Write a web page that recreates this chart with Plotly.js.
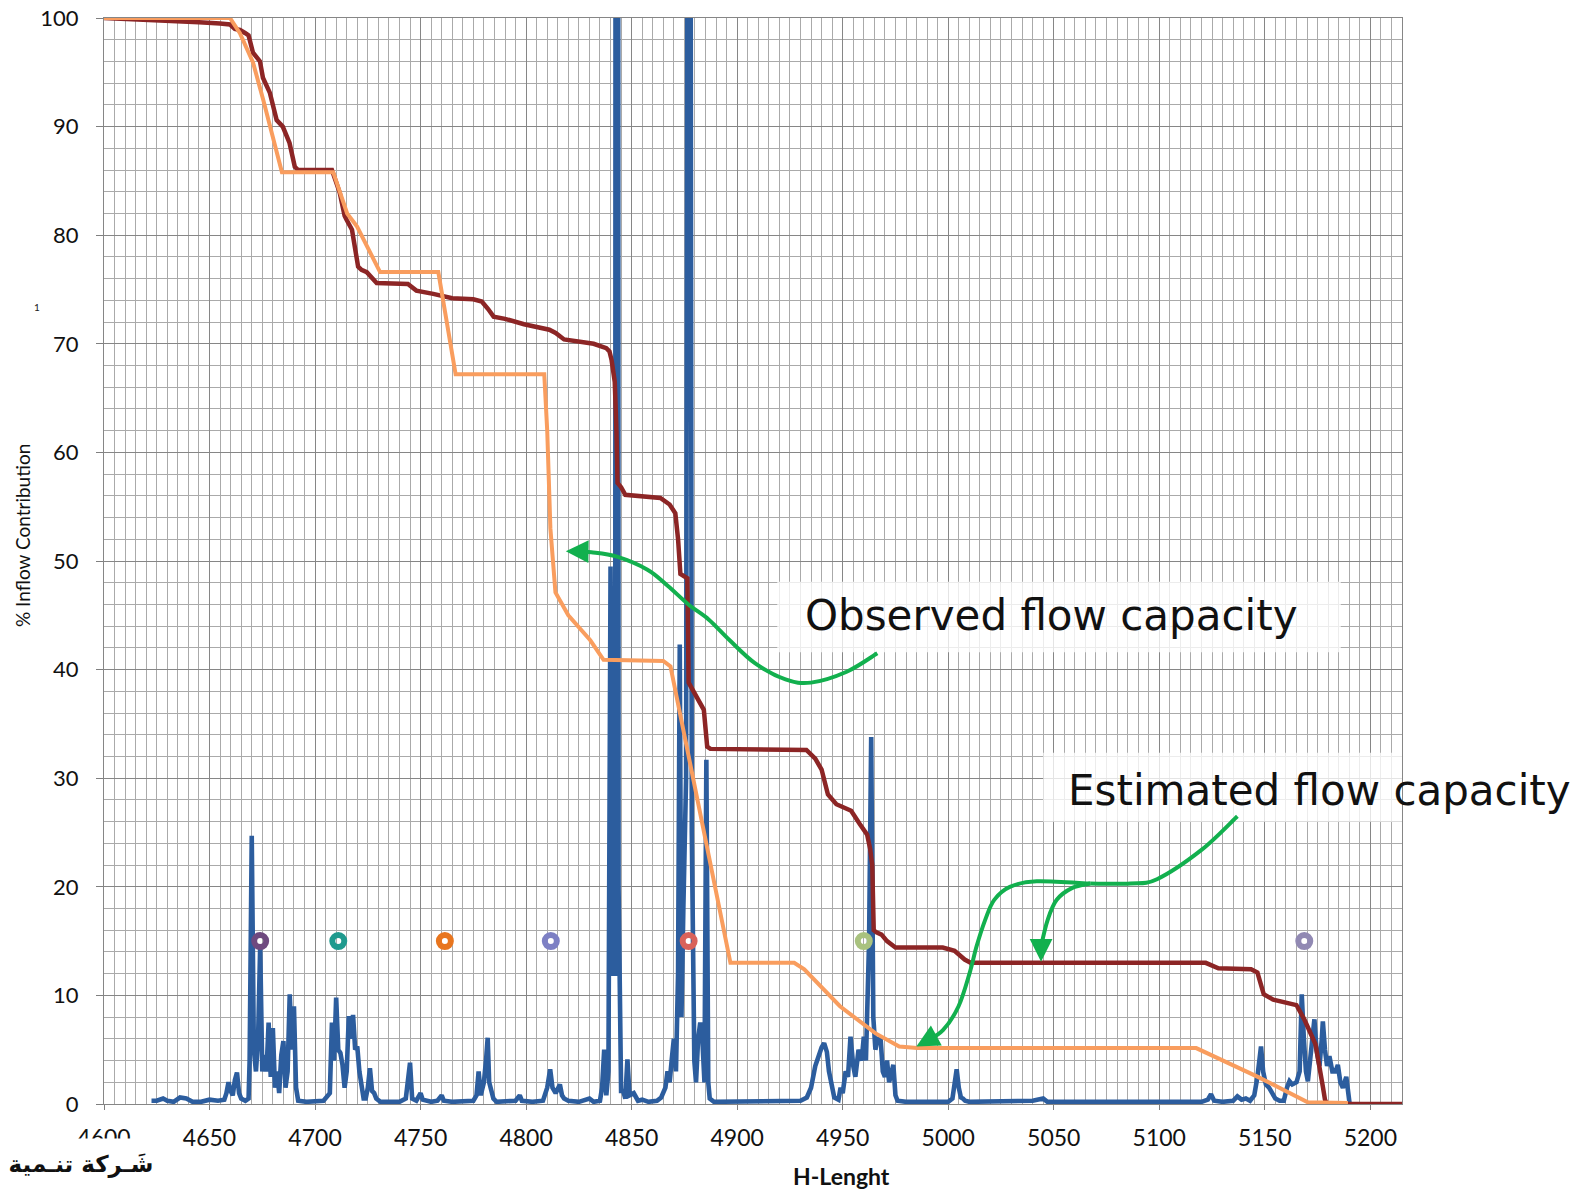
<!DOCTYPE html>
<html>
<head>
<meta charset="utf-8">
<script src="https://cdn.plot.ly/plotly-3.0.1.min.js"></script>
<style>
html,body{margin:0;padding:0;background:#fff;}
#chart{width:1578px;height:1192px;}
</style>
</head>
<body>
<div id="chart"></div>
<script>
// ---------- DATA ----------
const xTickVals = [4600,4650,4700,4750,4800,4850,4900,4950,5000,5050,5100,5150,5200];
const yTickVals = [0,10,20,30,40,50,60,70,80,90,100];

// Inflow profile (blue)
const blueX = [4622.5,4625,4628,4630,4633,4636,4639,4642,4646,4650,4654,4657,4658,4659,4660,4661,4662,4663,4664,4665,4667,4668.5,4669,4670,4671,4672,4673,4674,4675,4676,4677,4678,4679,4680,4681,4682,4683,4684,4685,4686,4687,4688,4689,4690,4691,4692,4696,4700,4704,4707,4708,4709,4710,4711,4712,4713,4714,4715,4716,4717,4718,4719,4720,4721,4722,4723,4724,4725,4726,4727,4728,4729,4731,4735,4740,4743,4744,4745,4746,4748,4750,4751,4755,4758,4760,4761,4765,4770,4775,4776.5,4777.5,4778.5,4780,4781,4781.8,4782.5,4783.5,4784.5,4786,4790,4795,4797,4798,4803,4808,4810,4811.4,4812.5,4814,4816,4817,4818,4820,4825,4830,4832,4835,4836,4837,4838,4839,4840,4841.3,4842.2,4842.4,4843.6,4843.8,4845,4846,4847,4848,4849,4851,4853,4855,4858,4862,4864,4866,4867,4868,4869,4870,4871,4872,4872.8,4873.6,4874.5,4875.8,4876.6,4877.8,4878.5,4879.7,4880.5,4881.5,4882.5,4883.5,4884.5,4885.4,4886.3,4887,4889,4895,4900,4905,4910,4915,4920,4925,4930,4933,4935,4937,4938.5,4940,4941.2,4942.5,4943.5,4944.5,4946,4948,4949,4950,4951.4,4952.5,4953.7,4955,4956,4957.5,4959,4960,4961,4962.5,4963.5,4964.5,4965.5,4966.5,4968,4969,4970,4971,4972,4974,4975,4976,4980,4985,4990,4995,5000,5002,5003,5004,5005,5006,5007,5008,5010,5020,5030,5040,5045,5047,5060,5075,5090,5100,5110,5120,5123,5124.5,5126,5130,5135,5137,5139,5141,5143,5145,5146.5,5147.5,5148.2,5149.2,5150.5,5152,5153.8,5155,5157,5159,5160.5,5161.7,5163,5165,5166.5,5167.5,5168.5,5169.5,5170.4,5171.5,5172.5,5173.5,5174.5,5175.9,5177,5177.5,5178.5,5179.5,5180.6,5182,5183.5,5184.6,5185.8,5187,5188.6,5189.5,5190.2];
const blueY = [0.3,0.3,0.5,0.3,0.2,0.6,0.5,0.2,0.2,0.4,0.3,0.4,1.0,2.0,1.2,0.8,2.2,2.9,1.0,0.5,0.3,0.5,4,24.7,5,3,6,14.5,3,4.5,3,7.5,2.5,7.0,1.5,3,1,4.5,5.8,1.5,3,10.1,5,9.0,1.5,0.3,0.2,0.2,0.3,1.0,7.5,4,9.8,5,4.7,3.6,1.5,3,8.1,6,8.2,5,5.3,3,1.6,0.5,0.5,1.5,3.3,1.2,1.0,0.5,0.2,0.2,0.2,0.5,2,3.8,0.5,0.3,1.0,0.4,0.2,0.3,0.8,0.3,0.2,0.2,0.3,0.8,3.0,0.8,2,4,6.1,2,1.2,0.5,0.2,0.2,0.3,0.8,0.3,0.2,0.3,1.5,3.2,1.5,1.0,1.8,0.8,0.5,0.3,0.2,0.5,0.2,0.3,1.5,5.0,0.8,3,49.5,12,12,130,130,20,1.2,1.2,0.5,4.1,0.8,1.0,0.3,0.4,0.2,0.3,0.6,1.5,3.0,2.0,4.1,6,3,12,42.3,8,18,30,130,130,25,4,2,6,7.5,6,2,31.7,2,0.5,0.2,0.2,0.3,0.2,0.3,0.2,0.2,0.3,0.3,0.6,1.5,3.5,4.5,5.2,5.6,4.8,3.0,2.0,0.6,0.4,1.5,1.0,3.0,2.5,6.2,3.5,2.5,5,4,6.2,4,15,33.8,8,5,6,5.9,3,2.5,4,2,3.6,0.8,0.3,0.2,0.2,0.2,0.3,0.2,0.5,1.8,3.2,1.5,0.6,0.5,0.3,0.2,0.2,0.2,0.3,0.5,0.2,0.2,0.2,0.2,0.2,0.2,0.2,0.4,0.9,0.3,0.2,0.3,0.7,0.4,0.5,0.3,0.8,2.5,4.5,5.3,3,1.8,1.5,1.0,0.5,0.3,0.3,1.5,2.1,1.8,2.0,3,10.1,6,3,2.1,4,6,7.8,5,3.5,6,7.6,5,3.5,4.4,3,3,3.6,2,1.5,2.5,0.5,0];

// Observed cumulative (dark red)
const obsX = [4600,4630,4645,4655,4659.7,4662,4664.4,4667,4668.5,4670.6,4673.9,4675.3,4677,4678.6,4681.8,4684.7,4687.9,4690.4,4692,4708,4711.7,4714,4715,4717.5,4720.4,4722,4724.5,4727,4729.2,4744,4748,4756,4765,4775,4779,4782,4784.6,4790,4799,4811,4814,4818,4822,4832,4838,4839.5,4840.5,4842,4842.8,4843.3,4845,4847,4863.6,4868,4870.7,4872,4873.1,4876.4,4877,4881,4884.2,4885.8,4887.3,4932.8,4937,4940,4943,4947,4951,4954,4958,4961.6,4963,4964,4964.7,4966,4968.4,4971,4975,4997.4,5003,5007.8,5010.6,5122,5128,5143.5,5146.5,5149.5,5154,5165,5168.7,5172,5174,5177.5,5178.5,5179.5,5215];
const obsY = [100,99.8,99.6,99.5,99.4,99.0,98.9,98.6,98.4,96.8,96.0,94.5,93.8,93.1,90.6,90.0,88.5,86.3,86.0,86.0,83.9,81.8,81.4,80.5,77.1,76.8,76.6,76.0,75.6,75.5,74.9,74.6,74.2,74.1,73.9,73.2,72.5,72.3,71.8,71.3,71.0,70.4,70.3,70.0,69.6,69.3,68.5,66.5,62,57.2,56.8,56.1,55.8,55.2,54.4,52,48.8,48.4,38.8,37.5,36.3,32.9,32.7,32.6,31.8,30.8,28.5,27.6,27.3,27.0,25.8,24.8,23.5,22.0,16.0,15.8,15.6,15.0,14.4,14.4,14.1,13.3,13.0,13.0,12.5,12.4,12.1,10.1,9.6,9.1,7.8,6.2,5.5,1.6,0.4,0,0];

// Estimated cumulative (orange)
const estX = [4600,4659.7,4664.4,4670.6,4675.4,4678.6,4684.3,4708.6,4715.2,4719.9,4730.8,4758.4,4766.6,4808.6,4810,4811.5,4813.9,4820,4830.4,4836.7,4865,4868.4,4896.8,4927,4931.8,4948.7,4965.6,4976.8,4985.2,5117.5,5146.7,5170.4,5189.4];
const estY = [100,100,98.6,95.9,92.5,90.0,85.8,85.8,82.0,80.8,76.6,76.6,67.2,67.2,62,53,47.1,45.0,42.7,40.9,40.8,40.3,13.0,13.0,12.4,9.0,6.5,5.3,5.15,5.15,2.5,0.15,0.1];

// Zone markers (rings)
const ringX = [4674,4711,4761.5,4811.7,4877,4960,5168.7];
const ringY = [15,15,15,15,15,15,15];
const ringColors = ['#6f4a7f','#1f9a8e','#e8751e','#7d80c4','#d9625a','#a9c27f','#9189b3'];

// Callout arrow guide points (data coordinates)
const obsArrow = [[4966.4,41.5],[4951.9,39.8],[4935,38.8],[4922.9,39.1],[4908.4,40.6],[4896.2,42.75],[4886.6,44.6],[4876.9,46.0],[4867.2,47.7],[4857.5,49.2],[4843,50.4],[4830.9,50.8],[4822,50.9]];
const estTrunk = [[5137,26.5],[5120,23.4],[5098.9,20.7],[5086.2,20.3],[5067.3,20.3]];
const estBranchA = [[5067.3,20.3],[5041.9,20.5],[5029.2,20.0],[5021.8,18.8],[5017.6,17.0],[5013.4,14.5],[5010.2,12.1],[5004.9,9.0],[4997.5,6.8],[4989,5.7]];
const estBranchB = [[5067.3,20.3],[5058.8,19.9],[5051.4,18.8],[5047.2,17.0],[5044,14.5],[5044,14.0]];

// ---------- HELPERS ----------
function smoothPath(pts){
  let d = 'M ' + pts[0][0] + ',' + pts[0][1];
  for (let i = 0; i < pts.length - 1; i++){
    const p0 = pts[i-1] || pts[i], p1 = pts[i], p2 = pts[i+1], p3 = pts[i+2] || pts[i+1];
    const c1 = [p1[0] + (p2[0]-p0[0])/6, p1[1] + (p2[1]-p0[1])/6];
    const c2 = [p2[0] - (p3[0]-p1[0])/6, p2[1] - (p3[1]-p1[1])/6];
    d += ' C ' + c1[0] + ',' + c1[1] + ' ' + c2[0] + ',' + c2[1] + ' ' + p2[0] + ',' + p2[1];
  }
  return d;
}
const GREEN = '#12b04e';
function greenCurve(pts){
  return {type:'path', xref:'x', yref:'y', path: smoothPath(pts), line:{color:GREEN, width:4}, layer:'above'};
}
function arrowHead(tip, tail){
  return {x:tip[0], y:tip[1], ax:tail[0], ay:tail[1], xref:'x', yref:'y', axref:'x', ayref:'y',
    text:'', showarrow:true, arrowhead:2, arrowsize:1.3, arrowwidth:3.5, arrowcolor:GREEN, standoff:0, startstandoff:0};
}

// ---------- TRACES ----------
const traces = [
  {x: blueX, y: blueY, type:'scatter', mode:'lines', line:{color:'#2c5d9e', width:4.6}, hoverinfo:'skip', showlegend:false},
  {x: obsX, y: obsY, type:'scatter', mode:'lines', line:{color:'#8c2525', width:4.5}, hoverinfo:'skip', showlegend:false},
  {x: estX, y: estY, type:'scatter', mode:'lines', line:{color:'#f99d5e', width:4}, hoverinfo:'skip', showlegend:false},
  {x: ringX, y: ringY, type:'scatter', mode:'markers', marker:{symbol:'circle-open', size:12, color:ringColors, line:{width:6, color:ringColors}}, hoverinfo:'skip', showlegend:false}
];

const tickFontX = {family:'Lato, "Open Sans", sans-serif', size:23, color:'#111'};
const tickFontY = {family:'Lato, "Open Sans", sans-serif', size:22, color:'#111'};

const layout = {
  width:1578, height:1192,
  margin:{l:104, r:176, t:18, b:88, pad:0},
  paper_bgcolor:'#fff', plot_bgcolor:'#fff',
  showlegend:false,
  xaxis:{
    range:[4600,5215], tickmode:'array', tickvals:xTickVals, ticktext:xTickVals.map(String),
    ticks:'outside', ticklen:5, tickcolor:'#7f7f7f', tickwidth:1,
    showgrid:true, gridcolor:'#868686', gridwidth:1,
    minor:{dtick:5, tick0:4600, showgrid:true, gridcolor:'#aaaaaa', gridwidth:1},
    showline:true, linecolor:'#868686', linewidth:1, mirror:true, zeroline:false,
    tickfont:tickFontX, ticklabelstandoff:8, fixedrange:true
  },
  yaxis:{
    range:[0,100], tickmode:'array', tickvals:yTickVals, ticktext:yTickVals.map(String),
    ticks:'outside', ticklen:7, tickcolor:'#7f7f7f', tickwidth:1,
    showgrid:true, gridcolor:'#868686', gridwidth:1,
    minor:{dtick:2, tick0:0, showgrid:true, gridcolor:'#aaaaaa', gridwidth:1},
    showline:true, linecolor:'#868686', linewidth:1, mirror:true, zeroline:false,
    tickfont:tickFontY, ticklabelstandoff:13, fixedrange:true
  },
  shapes:[
    {type:'rect', xref:'x', yref:'y', x0:4919, x1:5186, y0:41.6, y1:48.1, fillcolor:'rgba(255,255,255,0.78)', line:{width:0}, layer:'above'},
    {type:'rect', xref:'x', yref:'y', x0:5045, x1:5215, y0:26.0, y1:32.35, fillcolor:'rgba(255,255,255,0.78)', line:{width:0}, layer:'above'},
    greenCurve(obsArrow),
    greenCurve(estTrunk),
    greenCurve(estBranchA),
    greenCurve(estBranchB)
  ],
  annotations:[
    arrowHead([4818.8,50.9],[4826,50.88]),
    arrowHead([4984.9,5.3],[4991.5,6.0]),
    arrowHead([5044,13.1],[5044,14.6]),
    {x:4931.4, y:45.0, xref:'x', yref:'y', xanchor:'left', yanchor:'middle', showarrow:false,
      text:'Observed flow capacity', font:{family:'"DejaVu Sans", "Open Sans", sans-serif', size:42, color:'#111'}},
    {x:5055.6, y:28.9, xref:'x', yref:'y', xanchor:'left', yanchor:'middle', showarrow:false,
      text:'Estimated flow capacity', font:{family:'"DejaVu Sans", "Open Sans", sans-serif', size:42, color:'#111'}},
    {x:(841.5-104)/1298, y:(1104-1176)/1086, xref:'paper', yref:'paper', xanchor:'center', yanchor:'middle', showarrow:false,
      text:'<b>H-Lenght</b>', font:{family:'Lato, "Open Sans", sans-serif', size:23, color:'#111'}},
    {x:(22-104)/1298, y:(1104-536)/1086, xref:'paper', yref:'paper', xanchor:'center', yanchor:'middle', showarrow:false,
      textangle:-90, text:'% Inflow Contribution', font:{family:'Lato, "Open Sans", sans-serif', size:19, color:'#111'}},
    {x:(37-104)/1298, y:(1104-307)/1086, xref:'paper', yref:'paper', xanchor:'center', yanchor:'middle', showarrow:false,
      text:'1', font:{family:'Lato, sans-serif', size:10, color:'#222'}},
    {x:(0-104)/1298, y:(1104-1190)/1086, xref:'paper', yref:'paper', xanchor:'left', yanchor:'bottom', showarrow:false,
      text:'<b>شَـركة تنـمية</b>', bgcolor:'#ffffff', borderpad:0, width:160, height:50, valign:'middle', align:'center',
      font:{family:'"DejaVu Sans", sans-serif', size:23, color:'#111'}}
  ]
};

Plotly.newPlot('chart', traces, layout, {displayModeBar:false, staticPlot:true});
</script>
</body>
</html>
